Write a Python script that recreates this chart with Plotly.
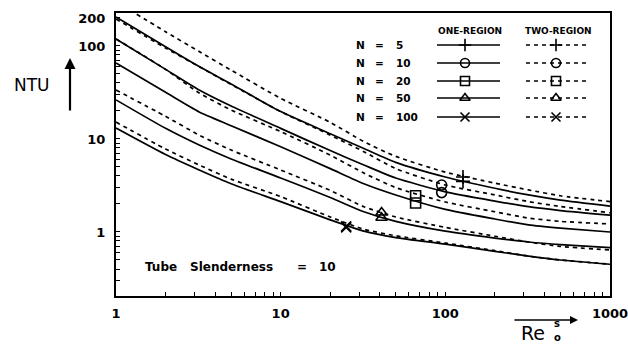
import plotly.graph_objects as go
import math

# ---------------- data ----------------
re_grid = [1, 2, 3.2, 5, 10, 20, 32, 50, 100, 200, 320, 500, 1000]
n_values = ["5", "10", "20", "50", "100"]

one_n5   = [205, 98, 60, 39, 19.7, 11.4, 7.9, 5.6, 3.9, 2.95, 2.5, 2.2, 1.9]
one_n10  = [119, 56, 33.6, 22.6, 13.0, 7.5, 5.25, 3.8, 2.7, 2.15, 1.87, 1.7, 1.52]
one_n20  = [65.6, 31.7, 19.5, 13.9, 8.24, 4.8, 3.3, 2.5, 1.75, 1.38, 1.19, 1.1, 1.0]
one_n50  = [26.3, 13.0, 8.6, 6.1, 3.81, 2.35, 1.65, 1.3, 1.02, 0.86, 0.78, 0.73, 0.68]
one_n100 = [13.1, 6.8, 4.64, 3.3, 2.12, 1.35, 1.02, 0.87, 0.74, 0.62, 0.55, 0.5, 0.45]

two_n5   = [300, 142, 87, 55, 27.3, 15.1, 9.35, 6.5, 4.4, 3.35, 2.83, 2.45, 2.12]
two_n10  = [195, 95, 60, 38.5, 19.7, 11.0, 7.3, 4.8, 3.2, 2.5, 2.12, 1.88, 1.61]
two_n20  = [119, 56, 31.2, 20.5, 12.0, 6.7, 4.3, 3.0, 2.1, 1.65, 1.41, 1.3, 1.22]
two_n50  = [33.6, 17.5, 11.0, 7.6, 4.64, 2.8, 1.87, 1.45, 1.12, 0.9, 0.78, 0.7, 0.64]
two_n100 = [15.2, 7.8, 5.25, 3.7, 2.4, 1.45, 1.07, 0.91, 0.76, 0.63, 0.55, 0.5, 0.45]

one_region = [one_n5, one_n10, one_n20, one_n50, one_n100]
two_region = [two_n5, two_n10, two_n20, two_n50, two_n100]

marker_re  = [128, 95, 66, 41, 25]
marker_one = [3.5, 2.65, 2.05, 1.42, 1.12]
marker_two = [3.9, 3.2, 2.45, 1.62, 1.15]
symbols = ["cross-thin-open", "circle-open", "square-open", "triangle-up-open", "x-thin-open"]

y_major = [0.2, 1, 10, 100, 200]
x_major = [1, 10, 100, 1000]

# ---------------- geometry ----------------
W, H = 628, 345
L, R, T, B = 116, 610, 13, 296

def px(x):
    return (x - L) / (R - L)

def py(y):
    return (B - y) / (B - T)

DASH = "4px,4px"
FONT = "DejaVu Sans"

fig = go.Figure()

for i in range(5):
    fig.add_trace(go.Scatter(x=re_grid, y=one_region[i], mode="lines",
                             line=dict(color="black", width=1.7, shape="spline", smoothing=0.6),
                             showlegend=False, hoverinfo="skip"))
    fig.add_trace(go.Scatter(x=re_grid, y=two_region[i], mode="lines",
                             line=dict(color="black", width=1.7, dash=DASH, shape="spline", smoothing=0.6),
                             showlegend=False, hoverinfo="skip"))
    fig.add_trace(go.Scatter(x=[marker_re[i], marker_re[i]], y=[marker_one[i], marker_two[i]],
                             mode="markers",
                             marker=dict(symbol=symbols[i], size=10, color="black",
                                         line=dict(color="black", width=1.6)),
                             showlegend=False, hoverinfo="skip"))

# ---------------- legend (drawn on an overlay pixel axis) ----------------
row_y = [45, 63, 81, 98, 117]
for i in range(5):
    fig.add_trace(go.Scatter(x=[437, 500], y=[row_y[i], row_y[i]], mode="lines",
                             line=dict(color="black", width=1.5),
                             xaxis="x2", yaxis="y2", showlegend=False, hoverinfo="skip"))
    fig.add_trace(go.Scatter(x=[526, 587], y=[row_y[i], row_y[i]], mode="lines",
                             line=dict(color="black", width=1.5, dash=DASH),
                             xaxis="x2", yaxis="y2", showlegend=False, hoverinfo="skip"))
    fig.add_trace(go.Scatter(x=[465, 556], y=[row_y[i], row_y[i]], mode="markers",
                             marker=dict(symbol=symbols[i], size=9, color="black",
                                         line=dict(color="black", width=1.6)),
                             xaxis="x2", yaxis="y2", showlegend=False, hoverinfo="skip"))

ann = []
def text(x, y, s, size, anchor="center", weight="bold"):
    ann.append(dict(x=px(x), y=py(y), xref="paper", yref="paper", text=s,
                    showarrow=False, xanchor=anchor, yanchor="middle",
                    font=dict(family=FONT, size=size, color="black", weight=weight)))

text(470, 31, "ONE-REGION", 9)
text(558, 31, "TWO-REGION", 9)
for i in range(5):
    text(360, row_y[i], "N", 10.5)
    text(379, row_y[i], "=", 10.5)
    text(394, row_y[i], n_values[i], 10.5, anchor="left")

text(143, 267, "Tube", 12, anchor="left")
text(188, 267, "Slenderness", 12, anchor="left")
text(302, 267, "=", 12)
text(317, 267, "10", 12, anchor="left")
text(32, 85, "NTU", 17, weight="normal")
text(533, 333, "Re", 19, weight="normal")
text(557, 323, "s", 10)
text(557, 337, "o", 10)

ann.append(dict(x=px(70), y=py(58), xref="paper", yref="paper", ax=0, ay=54,
                showarrow=True, arrowhead=2, arrowsize=1, arrowwidth=2.2,
                arrowcolor="black", text=""))
ann.append(dict(x=px(578), y=py(320), xref="paper", yref="paper", ax=-65, ay=0,
                showarrow=True, arrowhead=2, arrowsize=1, arrowwidth=1.6,
                arrowcolor="black", text=""))

# ---------------- axes ----------------
y_ticks = [round(v * 10 ** d, 3) for d in (-1, 0, 1) for v in range(1, 10)]
y_ticks = [t for t in y_ticks if t >= 0.2] + [100, 200]
y_text = [f"{t:g}" if t in y_major else "" for t in y_ticks]

x_ticks = [v * 10 ** d for d in (0, 1, 2) for v in range(1, 10)] + [1000]
x_text = [f"{t:g}" if t in x_major else "" for t in x_ticks]

tickfont = dict(family=FONT, size=13, color="black", weight="bold")

fig.update_layout(
    width=W, height=H,
    margin=dict(l=L, r=W - R, t=T, b=H - B),
    paper_bgcolor="white", plot_bgcolor="white",
    annotations=ann,
    xaxis=dict(type="log", range=[0, 3], tickvals=x_ticks, ticktext=x_text,
               ticks="inside", ticklen=4, tickwidth=1.2, tickcolor="black",
               showline=True, linecolor="black", linewidth=2, mirror=True,
               showgrid=False, zeroline=False, tickfont=tickfont, ticklabelstandoff=4,
               automargin=False, ticklabeloverflow="allow"),
    yaxis=dict(type="log", range=[math.log10(0.205), math.log10(226)], tickvals=y_ticks, ticktext=y_text,
               ticks="inside", ticklen=4, tickwidth=1.2, tickcolor="black",
               showline=True, linecolor="black", linewidth=2, mirror=True,
               showgrid=False, zeroline=False, tickfont=tickfont, ticklabelstandoff=6,
               automargin=False, ticklabeloverflow="allow"),
    xaxis2=dict(overlaying="x", anchor="y2", range=[L, R], visible=False, automargin=False),
    yaxis2=dict(overlaying="y", anchor="x2", range=[B, T], visible=False, automargin=False),
)

fig.write_html("out.html")
